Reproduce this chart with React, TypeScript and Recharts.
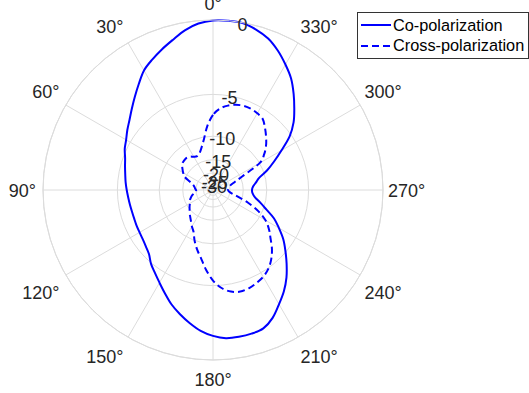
import React from 'react';
import { RadarChart, Radar, PolarGrid, PolarAngleAxis, PolarRadiusAxis, Legend } from 'recharts';

// Angles in degrees, counter-clockwise from the top
const angles = [
  0, 5, 10, 15, 20, 25, 30, 35, 40, 45, 50, 55,
  60, 65, 70, 75, 80, 85, 90, 95, 100, 105, 110, 115,
  120, 125, 130, 135, 140, 145, 150, 155, 160, 165, 170, 175,
  180, 185, 190, 195, 200, 205, 210, 215, 220, 225, 230, 235,
  240, 245, 250, 255, 260, 265, 270, 275, 280, 285, 290, 295,
  300, 305, 310, 315, 320, 325, 330, 335, 340, 345, 350, 355,
];

// Normalised gain (dB)
const coPolDb = [
  -0.02, -0.15, -0.41, -0.78, -1.11, -1.45, -1.81, -2.37, -2.91, -3.41, -3.86, -4.22,
  -4.58, -4.84, -5.19, -5.42, -5.61, -5.75, -5.89, -6.01, -6.09, -6.14, -6.14, -6.09,
  -6.04, -5.94, -5.75, -5.47, -4.93, -4.5, -4.02, -3.48, -2.91, -2.44, -2.0, -1.6,
  -1.33, -1.16, -1.14, -1.16, -1.25, -1.62, -2.2, -2.77, -3.45, -4.26, -5.1, -5.94,
  -6.98, -8.04, -9.54, -10.81, -12.01, -12.62, -12.79, -12.52, -11.81, -10.99, -9.39, -8.04,
  -6.66, -5.19, -4.17, -3.4, -2.64, -1.93, -1.39, -0.88, -0.46, -0.2, -0.02, 0,
];

const crossPolDb = [
  -7.1, -8.43, -10.31, -11.72, -12.73, -13.17, -12.94, -12.41, -12.21, -12.31, -12.52, -13.17,
  -13.87, -14.64, -16.74, -18.22, -19.06, -19.52, -20.0, -20.0, -19.06, -17.82, -17.09, -16.41,
  -16.09, -15.48, -14.91, -14.25, -13.63, -12.94, -12.11, -11.34, -9.99, -8.83, -7.8, -6.55,
  -5.47, -4.75, -4.34, -4.17, -4.22, -4.38, -4.58, -4.93, -5.47, -6.19, -7.1, -7.92,
  -8.96, -10.64, -13.17, -16.41, -19.06, -20.51, -21.05, -20.78, -20.26, -19.52, -17.45, -14.37,
  -9.99, -8.69, -7.8, -7.1, -6.45, -5.85, -5.66, -5.56, -5.56, -5.7, -5.95, -6.35,
];

const angleTicks = [0, 30, 60, 90, 120, 150, 180, 210, 240, 270, 300, 330];
const radialTicksDb = [0, -5, -10, -15, -20, -25, -30];

const seriesNames = ['Co-polarization', 'Cross-polarization'];
const seriesDash = ['', '7 4'];

// the radius is plotted as linear amplitude, labelled in dB
const toAmp = (db: number) => Math.pow(10, db / 20);
const toDb = (amp: number) => Math.round(20 * Math.log10(amp));

const data = angles.map((a, i) => ({
  angle: a,
  co: toAmp(coPolDb[i]),
  cross: toAmp(crossPolDb[i]),
}));

const W = 529;
const H = 393;
const CX = 213;
const CY = 190;
const R = 170;
const FONT = '"Liberation Sans", Arial, Helvetica, sans-serif';
const TEXT = '#262626';
const GRID = '#dcdcdc';
const BLUE = '#0000ff';

// MATLAB-like placement: anchored just outside the circle, aligned away from it
function AngleTick(props: any) {
  const { x, y, payload } = props;
  const dx = x - CX;
  const dy = y - CY;
  const len = Math.hypot(dx, dy) || 1;
  const ux = dx / len;
  const uy = dy / len;
  let ax = CX + ux * (R + 5);
  const ay = CY + uy * (R + 5);
  const anchor = Math.abs(ux) < 0.01 ? 'middle' : ux > 0 ? 'start' : 'end';
  if (anchor === 'end') ax -= 2;
  let ty = ay + 6.5;
  if (uy < -0.01) ty = ay - 5;
  else if (uy > 0.01) ty = ay + 21;
  return (
    <text x={ax} y={ty} textAnchor={anchor} fontFamily={FONT} fontSize={18} fill={TEXT}>
      {`${payload.value}°`}
    </text>
  );
}

function RadiusTick(props: any) {
  const { x, y, payload } = props;
  return (
    <text
      x={x}
      y={y + 2}
      textAnchor="middle"
      dominantBaseline="central"
      fontFamily={FONT}
      fontSize={18}
      fill={TEXT}
    >
      {toDb(payload.value)}
    </text>
  );
}

// closed smooth curve through the points Recharts computed
function SmoothShape(props: any) {
  const { points, stroke, strokeWidth, strokeDasharray } = props;
  if (!points || points.length < 3) return null;
  const n = points.length;
  let d = `M${points[0].x},${points[0].y}`;
  for (let i = 0; i < n; i++) {
    const p0 = points[(i - 1 + n) % n];
    const p1 = points[i];
    const p2 = points[(i + 1) % n];
    const p3 = points[(i + 2) % n];
    const c1x = p1.x + (p2.x - p0.x) / 6;
    const c1y = p1.y + (p2.y - p0.y) / 6;
    const c2x = p2.x - (p3.x - p1.x) / 6;
    const c2y = p2.y - (p3.y - p1.y) / 6;
    d += ` C${c1x},${c1y} ${c2x},${c2y} ${p2.x},${p2.y}`;
  }
  d += ' Z';
  return (
    <path
      d={d}
      fill="none"
      stroke={stroke}
      strokeWidth={strokeWidth}
      strokeDasharray={strokeDasharray}
      strokeLinejoin="round"
    />
  );
}

function LegendBox() {
  return (
    <div
      style={{
        boxSizing: 'border-box',
        width: 172,
        border: '1px solid #333',
        background: '#fff',
        padding: '2px 0 2px 3px',
        fontFamily: FONT,
        fontSize: 16.3,
        color: '#000',
        whiteSpace: 'nowrap',
      }}
    >
      {seriesNames.map((name, i) => (
        <div key={name} style={{ display: 'flex', alignItems: 'center', height: 20.6 }}>
          <svg width={31} height={10} style={{ marginRight: 1, flexShrink: 0 }}>
            <line
              x1={0}
              x2={30}
              y1={5}
              y2={5}
              stroke={BLUE}
              strokeWidth={2}
              strokeDasharray={seriesDash[i] || undefined}
            />
          </svg>
          <span>{name}</span>
        </div>
      ))}
    </div>
  );
}

export default function App() {
  return (
    <div style={{ position: 'absolute', left: 0, top: 0, width: W, height: H, background: '#fff' }}>
      <RadarChart
        width={W}
        height={H}
        data={data}
        cx={CX}
        cy={CY}
        innerRadius={0}
        outerRadius={R}
        startAngle={90}
        endAngle={450}
        margin={{ top: 0, right: 0, bottom: 0, left: 0 }}
      >
        <PolarGrid gridType="circle" stroke={GRID} strokeWidth={1} />
        <PolarAngleAxis
          dataKey="angle"
          type="number"
          domain={[0, 360]}
          ticks={angleTicks}
          tick={<AngleTick />}
          tickLine={false}
          axisLineType="circle"
          axisLine={{ stroke: GRID }}
        />
        <PolarRadiusAxis
          type="number"
          angle={80}
          domain={[toAmp(-30), 1]}
          ticks={radialTicksDb.map(toAmp)}
          allowDataOverflow
          axisLine={false}
          tick={<RadiusTick />}
        />
        <Radar
          name={seriesNames[0]}
          dataKey="co"
          stroke={BLUE}
          strokeWidth={2}
          fill="none"
          fillOpacity={0}
          dot={false}
          shape={<SmoothShape />}
          isAnimationActive={false}
        />
        <Radar
          name={seriesNames[1]}
          dataKey="cross"
          stroke={BLUE}
          strokeWidth={2}
          strokeDasharray={seriesDash[1]}
          fill="none"
          fillOpacity={0}
          dot={false}
          shape={<SmoothShape />}
          isAnimationActive={false}
        />
        <Legend
          layout="vertical"
          align="right"
          verticalAlign="top"
          content={<LegendBox />}
          wrapperStyle={{ left: 357, top: 12, width: 172, right: 'auto' }}
        />
      </RadarChart>
    </div>
  );
}
